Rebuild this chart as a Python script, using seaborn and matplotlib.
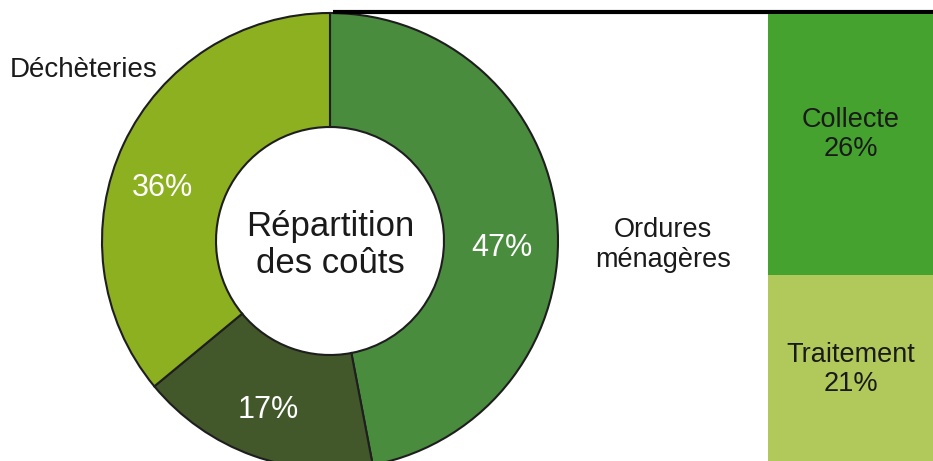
import pandas as pd
import matplotlib.pyplot as plt
import seaborn as sns

# donut: share of costs
cost_labels = ["Ordures ménagères", "Autres", "Déchèteries"]
cost_shares = [47, 17, 36]
cost_colors = ["#4a8c3e", "#42582a", "#8cb020"]

# stacked bar: split of household waste costs
waste_posts = ["Collecte", "Traitement"]
waste_shares = [26, 21]
waste_colors = ["#45a22e", "#b0c95a"]


def DonutChart():
    sns.set_style("white")
    plt.rcParams["font.family"] = ["Liberation Sans", "DejaVu Sans"]

    fig = plt.figure(figsize=(9.33, 4.61), dpi=100)

    # pixel-like axes covering the whole figure
    ax = fig.add_axes([0, 0, 1, 1])
    ax.pie(cost_shares,
           colors=cost_colors,
           startangle=90,
           counterclock=False,
           radius=228,
           center=(330, 220),
           wedgeprops=dict(width=114, edgecolor="#1e1e1e", linewidth=1.5))
    ax.set_xlim(0, 933)
    ax.set_ylim(0, 461)
    ax.set_aspect("auto")
    ax.axis("off")

    ax.plot([333, 933], [449, 449], color="black", lw=3, solid_capstyle="butt", zorder=5)

    ax.text(330, 216, "Répartition\ndes coûts", ha="center", va="center",
            fontsize=25, color="#1a1a1a", linespacing=1.12)
    ax.text(502, 213, "47%", ha="center", va="center", fontsize=22, color="white")
    ax.text(268, 51, "17%", ha="center", va="center", fontsize=22, color="white")
    ax.text(162, 273, "36%", ha="center", va="center", fontsize=22, color="white")
    ax.text(84, 391, "Déchèteries", ha="center", va="center", fontsize=20, color="#1a1a1a")
    ax.text(663, 216, "Ordures\nménagères", ha="center", va="center",
            fontsize=19.5, color="#1a1a1a", linespacing=1.2)

    # stacked bar on the right
    axb = fig.add_axes([768 / 933, 0, 165 / 933, 447 / 461])
    total = sum(waste_shares)
    bar_df = pd.DataFrame({"grp": ["om", "om"],
                           "val": [total, waste_shares[0]]})
    sns.barplot(data=bar_df.iloc[[0]], x="grp", y="val", color=waste_colors[1],
                width=1, linewidth=0, saturation=1, ax=axb)
    sns.barplot(data=bar_df.iloc[[1]], x="grp", y="val", color=waste_colors[0],
                width=1, linewidth=0, saturation=1, ax=axb)
    axb.set_xlim(-0.5, 0.5)
    axb.set_ylim(44.5, 0)
    axb.axis("off")

    axb.text(0, 12.0, "Collecte\n26%", ha="center", va="center",
             fontsize=19.5, color="#1a1a1a", linespacing=1.15)
    axb.text(0, 35.4, "Traitement\n21%", ha="center", va="center",
             fontsize=19.5, color="#1a1a1a", linespacing=1.15)

    plt.savefig("out.png", dpi=100)


DonutChart()
